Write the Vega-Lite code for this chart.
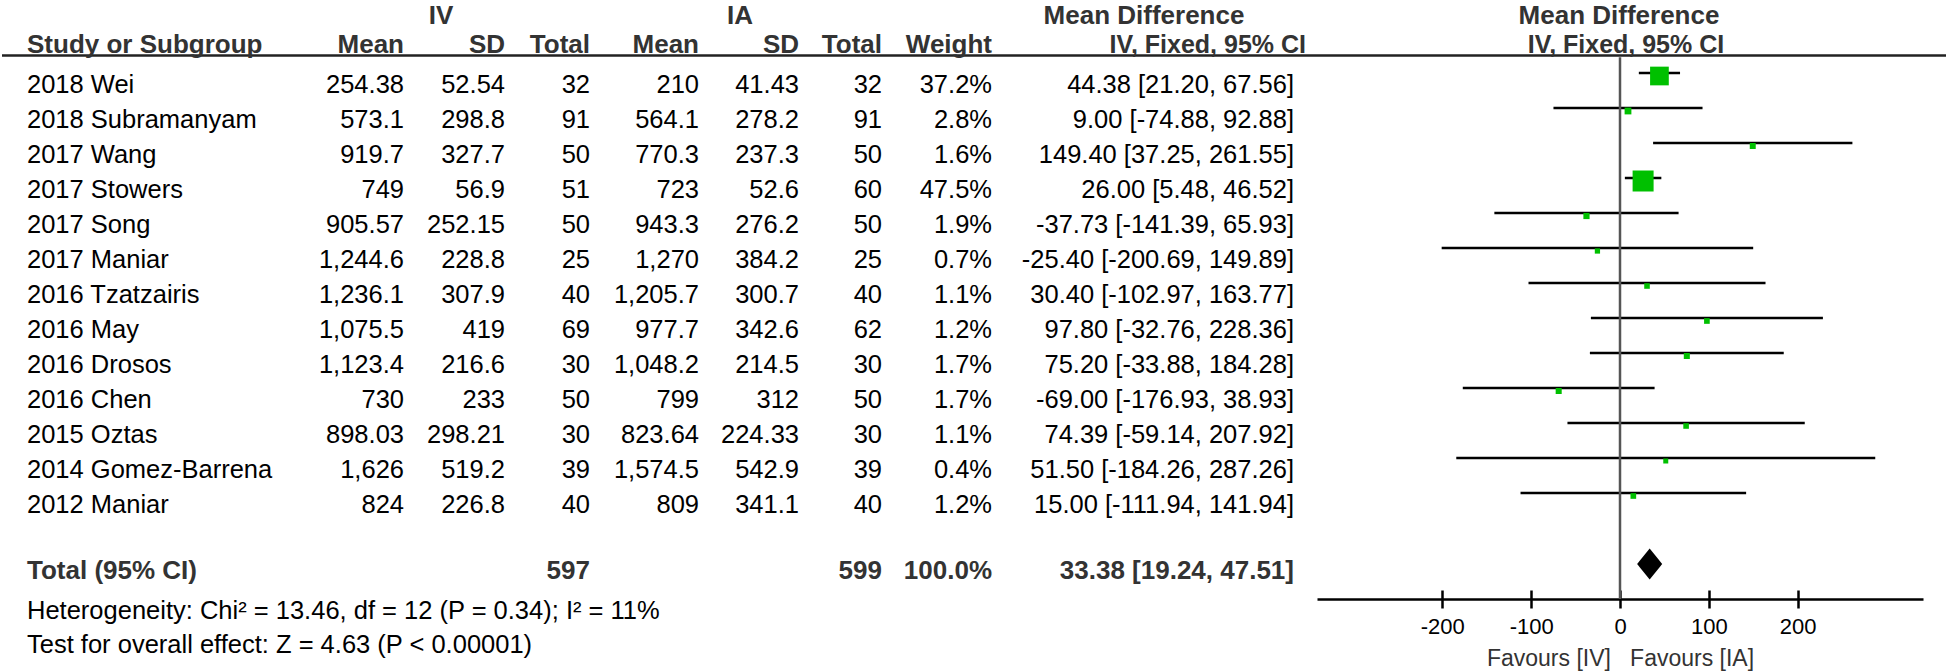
{
"$schema": "https://vega.github.io/schema/vega-lite/v6.json",
"padding": 0,
"autosize": {"type": "pad"},
"spacing": 0,
"bounds": "flush",
"config": {"view": {"stroke": null}, "concat": {"spacing": 0}, "text": {"font": "Liberation Sans"}, "axis": {"labelFont": "Liberation Sans", "titleFont": "Liberation Sans"}},
"datasets": {
 "studies": [
  {"study": "2018 Wei", "m1": 254.38, "s1": 52.54, "n1": 32, "m2": 210, "s2": 41.43, "n2": 32, "w": 0.372, "md": 44.38, "lo": 21.20, "hi": 67.56, "ci": "44.38 [21.20, 67.56]"},
  {"study": "2018 Subramanyam", "m1": 573.1, "s1": 298.8, "n1": 91, "m2": 564.1, "s2": 278.2, "n2": 91, "w": 0.028, "md": 9.00, "lo": -74.88, "hi": 92.88, "ci": "9.00 [-74.88, 92.88]"},
  {"study": "2017 Wang", "m1": 919.7, "s1": 327.7, "n1": 50, "m2": 770.3, "s2": 237.3, "n2": 50, "w": 0.016, "md": 149.40, "lo": 37.25, "hi": 261.55, "ci": "149.40 [37.25, 261.55]"},
  {"study": "2017 Stowers", "m1": 749, "s1": 56.9, "n1": 51, "m2": 723, "s2": 52.6, "n2": 60, "w": 0.475, "md": 26.00, "lo": 5.48, "hi": 46.52, "ci": "26.00 [5.48, 46.52]"},
  {"study": "2017 Song", "m1": 905.57, "s1": 252.15, "n1": 50, "m2": 943.3, "s2": 276.2, "n2": 50, "w": 0.019, "md": -37.73, "lo": -141.39, "hi": 65.93, "ci": "-37.73 [-141.39, 65.93]"},
  {"study": "2017 Maniar", "m1": 1244.6, "s1": 228.8, "n1": 25, "m2": 1270, "s2": 384.2, "n2": 25, "w": 0.007, "md": -25.40, "lo": -200.69, "hi": 149.89, "ci": "-25.40 [-200.69, 149.89]"},
  {"study": "2016 Tzatzairis", "m1": 1236.1, "s1": 307.9, "n1": 40, "m2": 1205.7, "s2": 300.7, "n2": 40, "w": 0.011, "md": 30.40, "lo": -102.97, "hi": 163.77, "ci": "30.40 [-102.97, 163.77]"},
  {"study": "2016 May", "m1": 1075.5, "s1": 419, "n1": 69, "m2": 977.7, "s2": 342.6, "n2": 62, "w": 0.012, "md": 97.80, "lo": -32.76, "hi": 228.36, "ci": "97.80 [-32.76, 228.36]"},
  {"study": "2016 Drosos", "m1": 1123.4, "s1": 216.6, "n1": 30, "m2": 1048.2, "s2": 214.5, "n2": 30, "w": 0.017, "md": 75.20, "lo": -33.88, "hi": 184.28, "ci": "75.20 [-33.88, 184.28]"},
  {"study": "2016 Chen", "m1": 730, "s1": 233, "n1": 50, "m2": 799, "s2": 312, "n2": 50, "w": 0.017, "md": -69.00, "lo": -176.93, "hi": 38.93, "ci": "-69.00 [-176.93, 38.93]"},
  {"study": "2015 Oztas", "m1": 898.03, "s1": 298.21, "n1": 30, "m2": 823.64, "s2": 224.33, "n2": 30, "w": 0.011, "md": 74.39, "lo": -59.14, "hi": 207.92, "ci": "74.39 [-59.14, 207.92]"},
  {"study": "2014 Gomez-Barrena", "m1": 1626, "s1": 519.2, "n1": 39, "m2": 1574.5, "s2": 542.9, "n2": 39, "w": 0.004, "md": 51.50, "lo": -184.26, "hi": 287.26, "ci": "51.50 [-184.26, 287.26]"},
  {"study": "2012 Maniar", "m1": 824, "s1": 226.8, "n1": 40, "m2": 809, "s2": 341.1, "n2": 40, "w": 0.012, "md": 15.00, "lo": -111.94, "hi": 141.94, "ci": "15.00 [-111.94, 141.94]"}
 ],
 "total": [
  {"study": "Total (95% CI)", "n1": 597, "n2": 599, "w": 1.0, "md": 33.38, "lo": 19.24, "hi": 47.51, "ci": "33.38 [19.24, 47.51]"}
 ]
},
"hconcat": [
 {"width": 25, "height": 672, "data": {"values": [{}]}, "mark": {"type": "rule", "color": "#222", "strokeWidth": 2.5}, "encoding": {"y": {"datum": -0.5, "type": "quantitative", "scale": {"domain": [-2.0857, 17.1143], "reverse": true, "nice": false, "zero": false}, "axis": null}}},
 {"width": 377, "height": 672, "resolve": {"scale": {"y": "independent"}}, "layer": [
  {"data": {"values": [{}]}, "mark": {"type": "rule", "color": "#222", "strokeWidth": 2.5}, "encoding": {"y": {"datum": -0.5, "type": "quantitative", "scale": {"domain": [-2.0857, 17.1143], "reverse": true, "nice": false, "zero": false}, "axis": null}}},
  {"data": {"values": [{}]}, "mark": {"type": "text", "text": "Study or Subgroup", "align": "left", "baseline": "middle", "fontWeight": "bold", "fontSize": 26, "color": "#333"}, "encoding": {"x": {"value": 0}, "y": {"datum": -0.814, "type": "quantitative", "scale": {"domain": [-2.0857, 17.1143], "reverse": true, "nice": false, "zero": false}, "axis": null}}},
  {"data": {"values": [{}]}, "mark": {"type": "text", "text": "Mean", "align": "right", "baseline": "middle", "fontWeight": "bold", "fontSize": 26, "color": "#333"}, "encoding": {"x": {"value": "width"}, "y": {"datum": -0.814, "type": "quantitative", "scale": {"domain": [-2.0857, 17.1143], "reverse": true, "nice": false, "zero": false}, "axis": null}}},
  {"data": {"name": "studies"}, "mark": {"type": "text", "align": "left", "baseline": "middle", "dy": 12, "fontSize": 25.5, "color": "#000"}, "encoding": {"x": {"value": 0}, "y": {"field": "study", "type": "nominal", "scale": {"type": "point", "domain": ["2018 Wei", "2018 Subramanyam", "2017 Wang", "2017 Stowers", "2017 Song", "2017 Maniar", "2016 Tzatzairis", "2016 May", "2016 Drosos", "2016 Chen", "2015 Oztas", "2014 Gomez-Barrena", "2012 Maniar", " ", "Total (95% CI)"], "range": [73, 563], "padding": 0}, "axis": null}, "text": {"field": "study", "type": "nominal"}}},
  {"data": {"name": "total"}, "mark": {"type": "text", "align": "left", "baseline": "middle", "dy": 8, "fontSize": 26, "fontWeight": "bold", "color": "#333"}, "encoding": {"x": {"value": 0}, "y": {"field": "study", "type": "nominal", "scale": {"type": "point", "domain": ["2018 Wei", "2018 Subramanyam", "2017 Wang", "2017 Stowers", "2017 Song", "2017 Maniar", "2016 Tzatzairis", "2016 May", "2016 Drosos", "2016 Chen", "2015 Oztas", "2014 Gomez-Barrena", "2012 Maniar", " ", "Total (95% CI)"], "range": [73, 563], "padding": 0}, "axis": null}, "text": {"field": "study", "type": "nominal"}}},
  {"data": {"name": "studies"}, "mark": {"type": "text", "align": "right", "baseline": "middle", "dy": 12, "fontSize": 25.5, "color": "#000"}, "encoding": {"x": {"value": "width"}, "y": {"field": "study", "type": "nominal", "scale": {"type": "point", "domain": ["2018 Wei", "2018 Subramanyam", "2017 Wang", "2017 Stowers", "2017 Song", "2017 Maniar", "2016 Tzatzairis", "2016 May", "2016 Drosos", "2016 Chen", "2015 Oztas", "2014 Gomez-Barrena", "2012 Maniar", " ", "Total (95% CI)"], "range": [73, 563], "padding": 0}, "axis": null}, "text": {"field": "m1", "type": "quantitative", "format": ",.2~f"}}},
  {"data": {"values": [{}]}, "mark": {"type": "text", "text": "Heterogeneity: Chi² = 13.46, df = 12 (P = 0.34); I² = 11%", "align": "left", "baseline": "middle", "fontSize": 25.5, "color": "#000"}, "encoding": {"x": {"value": 0}, "y": {"datum": 15.38, "type": "quantitative", "scale": {"domain": [-2.0857, 17.1143], "reverse": true, "nice": false, "zero": false}, "axis": null}}},
  {"data": {"values": [{}]}, "mark": {"type": "text", "text": "Test for overall effect: Z = 4.63 (P < 0.00001)", "align": "left", "baseline": "middle", "fontSize": 25.5, "color": "#000"}, "encoding": {"x": {"value": 0}, "y": {"datum": 16.34, "type": "quantitative", "scale": {"domain": [-2.0857, 17.1143], "reverse": true, "nice": false, "zero": false}, "axis": null}}}
 ]},
 {"width": 101, "height": 672, "resolve": {"scale": {"y": "independent"}}, "layer": [
  {"data": {"values": [{}]}, "mark": {"type": "rule", "color": "#222", "strokeWidth": 2.5}, "encoding": {"y": {"datum": -0.5, "type": "quantitative", "scale": {"domain": [-2.0857, 17.1143], "reverse": true, "nice": false, "zero": false}, "axis": null}}},
  {"data": {"values": [{}]}, "mark": {"type": "text", "text": "IV", "align": "center", "baseline": "middle", "dx": -13.5, "fontWeight": "bold", "fontSize": 26, "color": "#333"}, "encoding": {"y": {"datum": -1.62, "type": "quantitative", "scale": {"domain": [-2.0857, 17.1143], "reverse": true, "nice": false, "zero": false}, "axis": null}}},
  {"data": {"values": [{}]}, "mark": {"type": "text", "text": "SD", "align": "right", "baseline": "middle", "fontWeight": "bold", "fontSize": 26, "color": "#333"}, "encoding": {"x": {"value": "width"}, "y": {"datum": -0.814, "type": "quantitative", "scale": {"domain": [-2.0857, 17.1143], "reverse": true, "nice": false, "zero": false}, "axis": null}}},
  {"data": {"name": "studies"}, "mark": {"type": "text", "align": "right", "baseline": "middle", "dy": 12, "fontSize": 25.5, "color": "#000"}, "encoding": {"x": {"value": "width"}, "y": {"field": "study", "type": "nominal", "scale": {"type": "point", "domain": ["2018 Wei", "2018 Subramanyam", "2017 Wang", "2017 Stowers", "2017 Song", "2017 Maniar", "2016 Tzatzairis", "2016 May", "2016 Drosos", "2016 Chen", "2015 Oztas", "2014 Gomez-Barrena", "2012 Maniar", " ", "Total (95% CI)"], "range": [73, 563], "padding": 0}, "axis": null}, "text": {"field": "s1", "type": "quantitative", "format": ",.2~f"}}}
 ]},
 {"width": 85, "height": 672, "resolve": {"scale": {"y": "independent"}}, "layer": [
  {"data": {"values": [{}]}, "mark": {"type": "rule", "color": "#222", "strokeWidth": 2.5}, "encoding": {"y": {"datum": -0.5, "type": "quantitative", "scale": {"domain": [-2.0857, 17.1143], "reverse": true, "nice": false, "zero": false}, "axis": null}}},
  {"data": {"values": [{}]}, "mark": {"type": "text", "text": "Total", "align": "right", "baseline": "middle", "fontWeight": "bold", "fontSize": 26, "color": "#333"}, "encoding": {"x": {"value": "width"}, "y": {"datum": -0.814, "type": "quantitative", "scale": {"domain": [-2.0857, 17.1143], "reverse": true, "nice": false, "zero": false}, "axis": null}}},
  {"data": {"name": "studies"}, "mark": {"type": "text", "align": "right", "baseline": "middle", "dy": 12, "fontSize": 25.5, "color": "#000"}, "encoding": {"x": {"value": "width"}, "y": {"field": "study", "type": "nominal", "scale": {"type": "point", "domain": ["2018 Wei", "2018 Subramanyam", "2017 Wang", "2017 Stowers", "2017 Song", "2017 Maniar", "2016 Tzatzairis", "2016 May", "2016 Drosos", "2016 Chen", "2015 Oztas", "2014 Gomez-Barrena", "2012 Maniar", " ", "Total (95% CI)"], "range": [73, 563], "padding": 0}, "axis": null}, "text": {"field": "n1", "type": "quantitative", "format": ",.2~f"}}},
  {"data": {"name": "total"}, "mark": {"type": "text", "align": "right", "baseline": "middle", "dy": 8, "fontSize": 26, "fontWeight": "bold", "color": "#333"}, "encoding": {"x": {"value": "width"}, "y": {"field": "study", "type": "nominal", "scale": {"type": "point", "domain": ["2018 Wei", "2018 Subramanyam", "2017 Wang", "2017 Stowers", "2017 Song", "2017 Maniar", "2016 Tzatzairis", "2016 May", "2016 Drosos", "2016 Chen", "2015 Oztas", "2014 Gomez-Barrena", "2012 Maniar", " ", "Total (95% CI)"], "range": [73, 563], "padding": 0}, "axis": null}, "text": {"field": "n1", "type": "quantitative", "format": "d"}}}
 ]},
 {"width": 109, "height": 672, "resolve": {"scale": {"y": "independent"}}, "layer": [
  {"data": {"values": [{}]}, "mark": {"type": "rule", "color": "#222", "strokeWidth": 2.5}, "encoding": {"y": {"datum": -0.5, "type": "quantitative", "scale": {"domain": [-2.0857, 17.1143], "reverse": true, "nice": false, "zero": false}, "axis": null}}},
  {"data": {"values": [{}]}, "mark": {"type": "text", "text": "Mean", "align": "right", "baseline": "middle", "fontWeight": "bold", "fontSize": 26, "color": "#333"}, "encoding": {"x": {"value": "width"}, "y": {"datum": -0.814, "type": "quantitative", "scale": {"domain": [-2.0857, 17.1143], "reverse": true, "nice": false, "zero": false}, "axis": null}}},
  {"data": {"name": "studies"}, "mark": {"type": "text", "align": "right", "baseline": "middle", "dy": 12, "fontSize": 25.5, "color": "#000"}, "encoding": {"x": {"value": "width"}, "y": {"field": "study", "type": "nominal", "scale": {"type": "point", "domain": ["2018 Wei", "2018 Subramanyam", "2017 Wang", "2017 Stowers", "2017 Song", "2017 Maniar", "2016 Tzatzairis", "2016 May", "2016 Drosos", "2016 Chen", "2015 Oztas", "2014 Gomez-Barrena", "2012 Maniar", " ", "Total (95% CI)"], "range": [73, 563], "padding": 0}, "axis": null}, "text": {"field": "m2", "type": "quantitative", "format": ",.2~f"}}}
 ]},
 {"width": 100, "height": 672, "resolve": {"scale": {"y": "independent"}}, "layer": [
  {"data": {"values": [{}]}, "mark": {"type": "rule", "color": "#222", "strokeWidth": 2.5}, "encoding": {"y": {"datum": -0.5, "type": "quantitative", "scale": {"domain": [-2.0857, 17.1143], "reverse": true, "nice": false, "zero": false}, "axis": null}}},
  {"data": {"values": [{}]}, "mark": {"type": "text", "text": "IA", "align": "center", "baseline": "middle", "dx": -9, "fontWeight": "bold", "fontSize": 26, "color": "#333"}, "encoding": {"y": {"datum": -1.62, "type": "quantitative", "scale": {"domain": [-2.0857, 17.1143], "reverse": true, "nice": false, "zero": false}, "axis": null}}},
  {"data": {"values": [{}]}, "mark": {"type": "text", "text": "SD", "align": "right", "baseline": "middle", "fontWeight": "bold", "fontSize": 26, "color": "#333"}, "encoding": {"x": {"value": "width"}, "y": {"datum": -0.814, "type": "quantitative", "scale": {"domain": [-2.0857, 17.1143], "reverse": true, "nice": false, "zero": false}, "axis": null}}},
  {"data": {"name": "studies"}, "mark": {"type": "text", "align": "right", "baseline": "middle", "dy": 12, "fontSize": 25.5, "color": "#000"}, "encoding": {"x": {"value": "width"}, "y": {"field": "study", "type": "nominal", "scale": {"type": "point", "domain": ["2018 Wei", "2018 Subramanyam", "2017 Wang", "2017 Stowers", "2017 Song", "2017 Maniar", "2016 Tzatzairis", "2016 May", "2016 Drosos", "2016 Chen", "2015 Oztas", "2014 Gomez-Barrena", "2012 Maniar", " ", "Total (95% CI)"], "range": [73, 563], "padding": 0}, "axis": null}, "text": {"field": "s2", "type": "quantitative", "format": ",.2~f"}}}
 ]},
 {"width": 83, "height": 672, "resolve": {"scale": {"y": "independent"}}, "layer": [
  {"data": {"values": [{}]}, "mark": {"type": "rule", "color": "#222", "strokeWidth": 2.5}, "encoding": {"y": {"datum": -0.5, "type": "quantitative", "scale": {"domain": [-2.0857, 17.1143], "reverse": true, "nice": false, "zero": false}, "axis": null}}},
  {"data": {"values": [{}]}, "mark": {"type": "text", "text": "Total", "align": "right", "baseline": "middle", "fontWeight": "bold", "fontSize": 26, "color": "#333"}, "encoding": {"x": {"value": "width"}, "y": {"datum": -0.814, "type": "quantitative", "scale": {"domain": [-2.0857, 17.1143], "reverse": true, "nice": false, "zero": false}, "axis": null}}},
  {"data": {"name": "studies"}, "mark": {"type": "text", "align": "right", "baseline": "middle", "dy": 12, "fontSize": 25.5, "color": "#000"}, "encoding": {"x": {"value": "width"}, "y": {"field": "study", "type": "nominal", "scale": {"type": "point", "domain": ["2018 Wei", "2018 Subramanyam", "2017 Wang", "2017 Stowers", "2017 Song", "2017 Maniar", "2016 Tzatzairis", "2016 May", "2016 Drosos", "2016 Chen", "2015 Oztas", "2014 Gomez-Barrena", "2012 Maniar", " ", "Total (95% CI)"], "range": [73, 563], "padding": 0}, "axis": null}, "text": {"field": "n2", "type": "quantitative", "format": ",.2~f"}}},
  {"data": {"name": "total"}, "mark": {"type": "text", "align": "right", "baseline": "middle", "dy": 8, "fontSize": 26, "fontWeight": "bold", "color": "#333"}, "encoding": {"x": {"value": "width"}, "y": {"field": "study", "type": "nominal", "scale": {"type": "point", "domain": ["2018 Wei", "2018 Subramanyam", "2017 Wang", "2017 Stowers", "2017 Song", "2017 Maniar", "2016 Tzatzairis", "2016 May", "2016 Drosos", "2016 Chen", "2015 Oztas", "2014 Gomez-Barrena", "2012 Maniar", " ", "Total (95% CI)"], "range": [73, 563], "padding": 0}, "axis": null}, "text": {"field": "n2", "type": "quantitative", "format": "d"}}}
 ]},
 {"width": 110, "height": 672, "resolve": {"scale": {"y": "independent"}}, "layer": [
  {"data": {"values": [{}]}, "mark": {"type": "rule", "color": "#222", "strokeWidth": 2.5}, "encoding": {"y": {"datum": -0.5, "type": "quantitative", "scale": {"domain": [-2.0857, 17.1143], "reverse": true, "nice": false, "zero": false}, "axis": null}}},
  {"data": {"values": [{}]}, "mark": {"type": "text", "text": "Weight", "align": "right", "baseline": "middle", "fontWeight": "bold", "fontSize": 26, "color": "#333"}, "encoding": {"x": {"value": "width"}, "y": {"datum": -0.814, "type": "quantitative", "scale": {"domain": [-2.0857, 17.1143], "reverse": true, "nice": false, "zero": false}, "axis": null}}},
  {"data": {"name": "studies"}, "mark": {"type": "text", "align": "right", "baseline": "middle", "dy": 12, "fontSize": 25.5, "color": "#000"}, "encoding": {"x": {"value": "width"}, "y": {"field": "study", "type": "nominal", "scale": {"type": "point", "domain": ["2018 Wei", "2018 Subramanyam", "2017 Wang", "2017 Stowers", "2017 Song", "2017 Maniar", "2016 Tzatzairis", "2016 May", "2016 Drosos", "2016 Chen", "2015 Oztas", "2014 Gomez-Barrena", "2012 Maniar", " ", "Total (95% CI)"], "range": [73, 563], "padding": 0}, "axis": null}, "text": {"field": "w", "type": "quantitative", "format": ".1%"}}},
  {"data": {"name": "total"}, "mark": {"type": "text", "align": "right", "baseline": "middle", "dy": 8, "fontSize": 26, "fontWeight": "bold", "color": "#333"}, "encoding": {"x": {"value": "width"}, "y": {"field": "study", "type": "nominal", "scale": {"type": "point", "domain": ["2018 Wei", "2018 Subramanyam", "2017 Wang", "2017 Stowers", "2017 Song", "2017 Maniar", "2016 Tzatzairis", "2016 May", "2016 Drosos", "2016 Chen", "2015 Oztas", "2014 Gomez-Barrena", "2012 Maniar", " ", "Total (95% CI)"], "range": [73, 563], "padding": 0}, "axis": null}, "text": {"field": "w", "type": "quantitative", "format": ".1%"}}}
 ]},
 {"width": 302, "height": 672, "resolve": {"scale": {"y": "independent"}}, "layer": [
  {"data": {"values": [{}]}, "mark": {"type": "rule", "color": "#222", "strokeWidth": 2.5}, "encoding": {"y": {"datum": -0.5, "type": "quantitative", "scale": {"domain": [-2.0857, 17.1143], "reverse": true, "nice": false, "zero": false}, "axis": null}}},
  {"data": {"values": [{}]}, "mark": {"type": "text", "text": "Mean Difference", "align": "center", "baseline": "middle", "dx": 1, "fontWeight": "bold", "fontSize": 26, "color": "#333"}, "encoding": {"y": {"datum": -1.62, "type": "quantitative", "scale": {"domain": [-2.0857, 17.1143], "reverse": true, "nice": false, "zero": false}, "axis": null}}},
  {"data": {"values": [{}]}, "mark": {"type": "text", "text": "IV, Fixed, 95% CI", "align": "right", "baseline": "middle", "dx": 12, "fontWeight": "bold", "fontSize": 25, "color": "#333"}, "encoding": {"x": {"value": "width"}, "y": {"datum": -0.814, "type": "quantitative", "scale": {"domain": [-2.0857, 17.1143], "reverse": true, "nice": false, "zero": false}, "axis": null}}},
  {"data": {"name": "studies"}, "mark": {"type": "text", "align": "right", "baseline": "middle", "dy": 12, "fontSize": 25.5, "color": "#000"}, "encoding": {"x": {"value": "width"}, "y": {"field": "study", "type": "nominal", "scale": {"type": "point", "domain": ["2018 Wei", "2018 Subramanyam", "2017 Wang", "2017 Stowers", "2017 Song", "2017 Maniar", "2016 Tzatzairis", "2016 May", "2016 Drosos", "2016 Chen", "2015 Oztas", "2014 Gomez-Barrena", "2012 Maniar", " ", "Total (95% CI)"], "range": [73, 563], "padding": 0}, "axis": null}, "text": {"field": "ci", "type": "nominal"}}},
  {"data": {"name": "total"}, "mark": {"type": "text", "align": "right", "baseline": "middle", "dy": 8, "fontSize": 26, "fontWeight": "bold", "color": "#333"}, "encoding": {"x": {"value": "width"}, "y": {"field": "study", "type": "nominal", "scale": {"type": "point", "domain": ["2018 Wei", "2018 Subramanyam", "2017 Wang", "2017 Stowers", "2017 Song", "2017 Maniar", "2016 Tzatzairis", "2016 May", "2016 Drosos", "2016 Chen", "2015 Oztas", "2014 Gomez-Barrena", "2012 Maniar", " ", "Total (95% CI)"], "range": [73, 563], "padding": 0}, "axis": null}, "text": {"field": "ci", "type": "nominal"}}}
 ]},
 {"width": 654, "height": 672, "resolve": {"scale": {"x": "independent", "y": "independent", "size": "independent"}, "axis": {"x": "independent"}}, "layer": [
  {"data": {"values": [{}]}, "mark": {"type": "rule", "color": "#222", "strokeWidth": 2.5}, "encoding": {"y": {"datum": -0.5, "type": "quantitative", "scale": {"domain": [-2.0857, 17.1143], "reverse": true, "nice": false, "zero": false}, "axis": null}}},
  {"data": {"values": [{}]}, "mark": {"type": "text", "text": "Mean Difference", "align": "center", "baseline": "middle", "dx": -2, "fontWeight": "bold", "fontSize": 26, "color": "#333"}, "encoding": {"y": {"datum": -1.62, "type": "quantitative", "scale": {"domain": [-2.0857, 17.1143], "reverse": true, "nice": false, "zero": false}, "axis": null}}},
  {"data": {"values": [{}]}, "mark": {"type": "text", "text": "IV, Fixed, 95% CI", "align": "center", "baseline": "middle", "dx": 5, "fontWeight": "bold", "fontSize": 25, "color": "#333"}, "encoding": {"y": {"datum": -0.814, "type": "quantitative", "scale": {"domain": [-2.0857, 17.1143], "reverse": true, "nice": false, "zero": false}, "axis": null}}},
  {"data": {"name": "studies"}, "mark": {"type": "rule", "color": "#000", "strokeWidth": 2.5}, "encoding": {
    "x": {"field": "lo", "type": "quantitative", "scale": {"domain": [-341, 341], "range": [23, 629], "nice": false, "zero": false}, "axis": {"orient": "bottom", "offset": -73, "values": [-200, -100, 0, 100, 200], "labelExpr": "'' + datum.value", "grid": false, "domain": true, "domainColor": "#000", "domainWidth": 2.5, "ticks": true, "tickColor": "#000", "tickWidth": 2.5, "tickSize": 9, "labelFontSize": 22, "labelColor": "#000", "labelPadding": 8, "title": "Favours [IV]\u00a0\u00a0\u00a0Favours [IA]", "titleFontSize": 23, "titleFontWeight": "normal", "titleColor": "#333", "titleBaseline": "alphabetic", "titleY": 66}},
    "x2": {"field": "hi"},
    "y": {"field": "study", "type": "nominal", "scale": {"type": "point", "domain": ["2018 Wei", "2018 Subramanyam", "2017 Wang", "2017 Stowers", "2017 Song", "2017 Maniar", "2016 Tzatzairis", "2016 May", "2016 Drosos", "2016 Chen", "2015 Oztas", "2014 Gomez-Barrena", "2012 Maniar", " ", "Total (95% CI)"], "range": [73, 563], "padding": 0}, "axis": null}}},
  {"data": {"values": [{}]}, "mark": {"type": "rule", "color": "#555", "strokeWidth": 2.5}, "encoding": {
    "x": {"datum": 0, "type": "quantitative", "scale": {"domain": [-341, 341], "range": [23, 629], "nice": false, "zero": false}, "axis": {"orient": "top", "offset": -599, "values": [-200, -100, 0, 100, 200], "labels": false, "domain": false, "grid": false, "ticks": true, "tickColor": "#000", "tickWidth": 2.5, "tickSize": 9, "title": null}},
    "y": {"datum": -0.45, "type": "quantitative", "scale": {"domain": [-2.0857, 17.1143], "reverse": true, "nice": false, "zero": false}, "axis": null},
    "y2": {"datum": 15.03}}},
  {"data": {"name": "studies"}, "mark": {"type": "square", "color": "#00C000", "opacity": 1, "yOffset": 3}, "encoding": {
    "x": {"field": "md", "type": "quantitative", "scale": {"domain": [-341, 341], "range": [23, 629], "nice": false, "zero": false}, "axis": null},
    "y": {"field": "study", "type": "nominal", "scale": {"type": "point", "domain": ["2018 Wei", "2018 Subramanyam", "2017 Wang", "2017 Stowers", "2017 Song", "2017 Maniar", "2016 Tzatzairis", "2016 May", "2016 Drosos", "2016 Chen", "2015 Oztas", "2014 Gomez-Barrena", "2012 Maniar", " ", "Total (95% CI)"], "range": [73, 563], "padding": 0}, "axis": null},
    "size": {"field": "w", "type": "quantitative", "scale": {"domain": [0.004, 0.475], "range": [25, 441], "zero": false}, "legend": null}}},
  {"data": {"name": "total"}, "mark": {"type": "point", "shape": "M-0.81,0L0,-1L0.81,0L0,1Z", "size": 961, "filled": true, "color": "#000", "opacity": 1, "yOffset": 1}, "encoding": {
    "x": {"field": "md", "type": "quantitative", "scale": {"domain": [-341, 341], "range": [23, 629], "nice": false, "zero": false}, "axis": null},
    "y": {"field": "study", "type": "nominal", "scale": {"type": "point", "domain": ["2018 Wei", "2018 Subramanyam", "2017 Wang", "2017 Stowers", "2017 Song", "2017 Maniar", "2016 Tzatzairis", "2016 May", "2016 Drosos", "2016 Chen", "2015 Oztas", "2014 Gomez-Barrena", "2012 Maniar", " ", "Total (95% CI)"], "range": [73, 563], "padding": 0}, "axis": null}}}
 ]}
]
}
